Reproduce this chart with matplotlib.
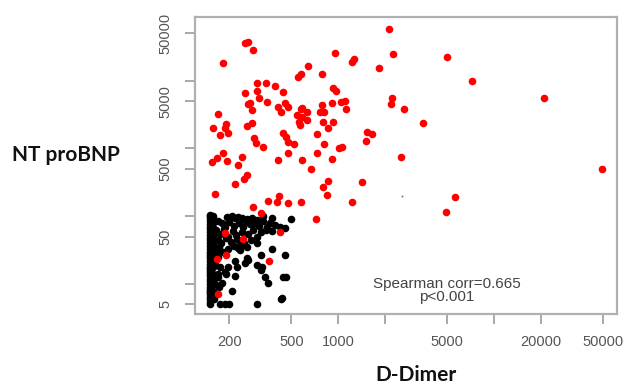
import matplotlib
matplotlib.use("Agg")
import matplotlib.pyplot as plt

# ---- data (D-Dimer, NT proBNP) ----
red_x = [252, 264, 284, 182, 551, 577, 301, 344, 393, 252, 301, 310, 442, 349, 264, 271,
         279, 410, 455, 475, 169, 429, 577, 2110, 951, 2240, 1220, 1260, 638, 1820, 785,
         923, 966, 785, 910, 1040, 1100, 1120, 2210, 2180, 2640, 585, 762, 809, 630, 543,
         559, 158, 190, 188, 174, 196, 260, 279, 442, 461, 475, 288, 297, 329, 520, 475,
         155, 167, 182, 193, 241, 410, 585, 227, 260, 248, 218, 162, 284, 354, 405, 417,
         475, 577, 585, 630, 568, 796, 923, 857, 730, 1530, 1640, 1500, 809, 1010, 1055,
         730, 910, 2520, 668, 857, 1420, 796, 845, 1220, 4970, 7200, 20800, 3490, 49000,
         5600, 4900, 719, 319, 188, 245, 423, 167, 190, 360, 169]
red_y = [36000, 37200, 28300, 18200, 11300, 12600, 9230, 9230, 8340, 6580, 7040, 5550, 6800,
         4840, 4520, 4680, 3690, 4080, 4680, 4080, 3220, 3450, 3820, 57800, 25600, 24700,
         18800, 20900, 16500, 15400, 12600, 7800, 7040, 4370, 4680, 4840, 5010, 3820, 5550,
         4520, 3820, 3950, 3450, 3450, 3450, 3110, 2450, 2000, 2290, 2000, 1580, 1690, 2140,
         2370, 1690, 1470, 1240, 1430, 1200, 1050, 1160, 855, 630, 722, 855, 652, 747, 675,
         675, 569, 405, 353, 298, 212, 136, 168, 162, 199, 156, 162, 2910, 2630, 2220, 2450,
         2450, 2000, 1630, 1750, 1630, 1290, 1160, 1010, 1050, 855, 698, 747, 497, 330, 319,
         269, 205, 162, 22300, 9900, 5550, 2370, 497, 192, 115, 91, 111, 56, 46, 58, 23, 27,
         22, 7.1]

black_x = [150] * 38 + [158] * 15 + [
    193, 208, 218, 227, 241, 260, 279, 301, 329, 376, 497,
    170, 180, 188, 200, 215, 230, 245, 256, 270, 290, 310, 330, 350, 365,
    165, 175, 185, 196, 210, 222, 240, 262, 285, 300, 320, 345,
    168, 178, 190, 205, 225, 250, 275, 300,
    172, 183, 195, 215, 235, 260,
    393, 423, 455, 349, 376,
    376, 317, 455, 260, 264, 252, 301, 319, 324, 339, 442, 461, 354, 208, 435, 429,
    301, 174, 188, 200,
    227, 234, 241, 218, 224, 196, 188, 190, 218, 180, 169,
    165, 170, 162, 175, 168, 162, 172, 165, 160]
black_y = [5, 5.5, 6, 6.5, 7, 7.5, 8, 8.5, 9, 10, 11, 12, 13, 14, 15, 16, 17, 18, 20, 22,
           24, 26, 28, 30, 33, 36, 40, 44, 48, 53, 58, 64, 70, 77, 85, 93, 100, 105] + [
    8, 11, 14, 18, 22, 27, 32, 38, 45, 52, 60, 68, 78, 90, 100] + [
    97, 100, 94, 97, 94, 91, 94, 88, 100, 94, 91,
    85, 78, 70, 82, 72, 80, 70, 85, 76, 80, 72, 85, 70, 78,
    62, 55, 65, 50, 60, 52, 58, 55, 62, 50, 58, 62,
    45, 40, 48, 42, 46, 40, 45, 40,
    35, 30, 33, 36, 32, 35,
    74, 69, 67, 67, 60,
    33, 27, 27, 24, 22.5, 20.3, 19, 16, 17.8, 12.6, 12.6, 12.6, 10.3, 7.9, 6.2, 6.0,
    5.05, 5.05, 5.05, 5.05,
    34, 37.5, 37.5, 22, 17.8, 17.8, 15, 14, 13, 10.5, 12.6,
    30, 25, 20, 18, 14, 10, 9, 7, 6]

gray_x = [2560]
gray_y = [199]

x_ticks = [200, 500, 1000, 2000, 5000, 10000, 20000, 50000]
x_labels = ["200", "500", "1000", "", "5000", "", "20000", "50000"]
y_ticks = [5, 10, 50, 100, 500, 1000, 5000, 10000, 50000]
y_labels = ["5", "", "50", "", "500", "", "5000", "", "50000"]

fig = plt.figure(figsize=(6.26, 3.85), dpi=100)
ax = fig.add_axes([0.3115, 0.1844, 0.674, 0.7706])
ax.set_xscale("log")
ax.set_yscale("log")

ax.scatter(black_x, black_y, s=30, c="#000000", linewidths=0, zorder=2)
ax.scatter(red_x, red_y, s=30, c="#ff0000", linewidths=0, zorder=3)
ax.scatter(gray_x, gray_y, s=2, c="#777777", linewidths=0, zorder=3)

ax.set_xlim(120.5, 61100)
ax.set_ylim(3.6, 86100)

ax.minorticks_off()
ax.set_xticks(x_ticks)
ax.set_xticklabels(x_labels)
ax.set_yticks(y_ticks)
ax.set_yticklabels(y_labels, rotation=90, va="center")
ax.tick_params(axis="both", which="major", direction="out", length=7, width=1.2,
               color="#999999", labelcolor="#555555", labelsize=10.5)
ax.tick_params(axis="x", pad=8)
ax.tick_params(axis="y", pad=9)
for lab in ax.get_xticklabels() + ax.get_yticklabels():
    lab.set_family("Liberation Sans")

for sp in ax.spines.values():
    sp.set_color("#b0b0b0")
    sp.set_linewidth(1.6)

ax.text(0.596, 0.101, "Spearman corr=0.665", transform=ax.transAxes, ha="center",
        va="center", fontsize=11, color="#444444", family="Liberation Sans")
ax.text(0.596, 0.057, "p<0.001", transform=ax.transAxes, ha="center",
        va="center", fontsize=11, color="#444444", family="Liberation Sans")

fig.text(0.019, 0.597, "NT proBNP", ha="left", va="center", fontsize=15,
         fontweight="bold", family="Lato", color="#111111")
fig.text(0.665, 0.026, "D-Dimer", ha="center", va="center", fontsize=15,
         fontweight="bold", family="Lato", color="#111111")

fig.savefig("out.png", dpi=100)
